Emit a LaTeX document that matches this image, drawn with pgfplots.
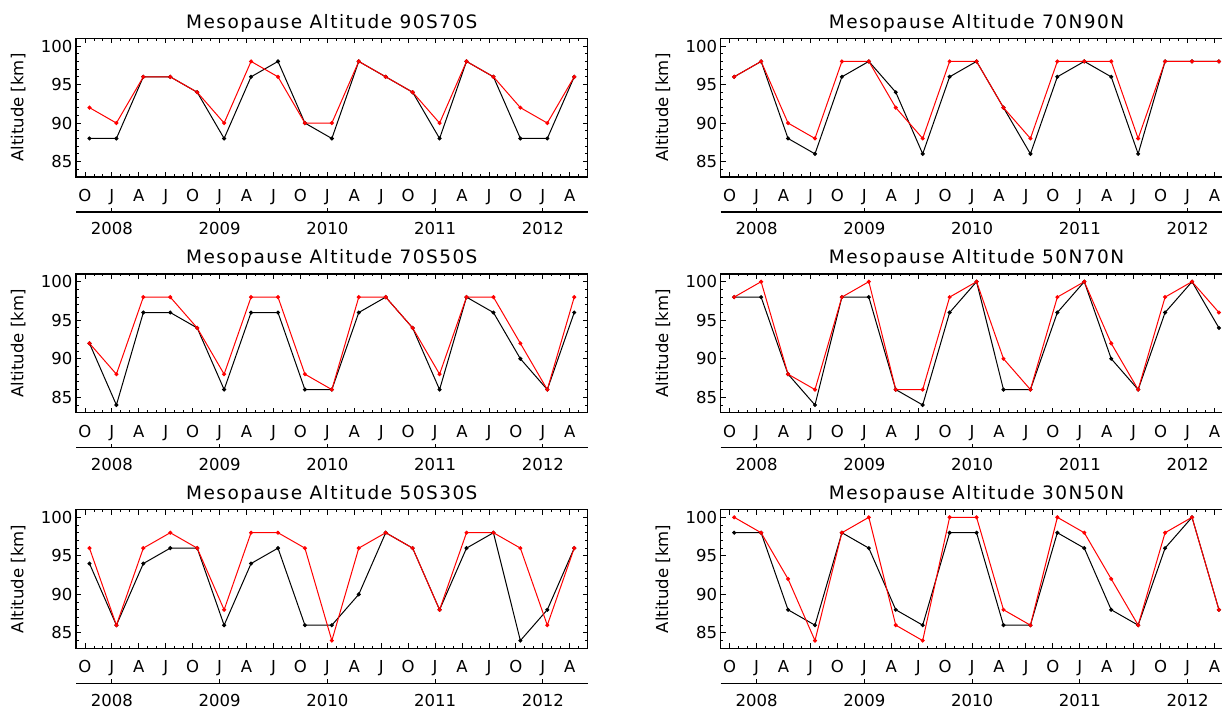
\documentclass[border=0pt]{standalone}
\usepackage{fontspec}
\setmainfont{DejaVu Sans}
\newfontfamily\titlefam[LetterSpace=8]{DejaVu Sans}
\usepackage{pgfplots}
\usepackage{pgfplotstable}
\pgfplotsset{compat=1.18}

% x: months since 1 Oct 2007 (data at mid-month of each quarter); b = black series, r = red series
\pgfplotstableread{
x b r
0.5 88 92
3.5 88 90
6.5 96 96
9.5 96 96
12.5 94 94
15.5 88 90
18.5 96 98
21.5 98 96
24.5 90 90
27.5 88 90
30.5 98 98
33.5 96 96
36.5 94 94
39.5 88 90
42.5 98 98
45.5 96 96
48.5 88 92
51.5 88 90
54.5 96 96
}\tabA
\pgfplotstableread{
x b r
0.5 96 96
3.5 98 98
6.5 88 90
9.5 86 88
12.5 96 98
15.5 98 98
18.5 94 92
21.5 86 88
24.5 96 98
27.5 98 98
30.5 92 92
33.5 86 88
36.5 96 98
39.5 98 98
42.5 96 98
45.5 86 88
48.5 98 98
51.5 98 98
54.5 98 98
}\tabB
\pgfplotstableread{
x b r
0.5 92 92
3.5 84 88
6.5 96 98
9.5 96 98
12.5 94 94
15.5 86 88
18.5 96 98
21.5 96 98
24.5 86 88
27.5 86 86
30.5 96 98
33.5 98 98
36.5 94 94
39.5 86 88
42.5 98 98
45.5 96 98
48.5 90 92
51.5 86 86
54.5 96 98
}\tabC
\pgfplotstableread{
x b r
0.5 98 98
3.5 98 100
6.5 88 88
9.5 84 86
12.5 98 98
15.5 98 100
18.5 86 86
21.5 84 86
24.5 96 98
27.5 100 100
30.5 86 90
33.5 86 86
36.5 96 98
39.5 100 100
42.5 90 92
45.5 86 86
48.5 96 98
51.5 100 100
54.5 94 96
}\tabD
\pgfplotstableread{
x b r
0.5 94 96
3.5 86 86
6.5 94 96
9.5 96 98
12.5 96 96
15.5 86 88
18.5 94 98
21.5 96 98
24.5 86 96
27.5 86 84
30.5 90 96
33.5 98 98
36.5 96 96
39.5 88 88
42.5 96 98
45.5 98 98
48.5 84 96
51.5 88 86
54.5 96 96
}\tabE
\pgfplotstableread{
x b r
0.5 98 100
3.5 98 98
6.5 88 92
9.5 86 84
12.5 98 98
15.5 96 100
18.5 88 86
21.5 86 84
24.5 98 100
27.5 98 100
30.5 86 88
33.5 86 86
36.5 98 100
39.5 96 98
42.5 88 92
45.5 86 86
48.5 96 98
51.5 100 100
54.5 88 88
}\tabF

\newcommand{\tickfont}{\fontsize{16.5}{18}\selectfont}
\newcommand{\titlefont}{\titlefam\fontsize{18.5}{20}\selectfont}

\pgfplotsset{
  every axis title shift=0pt,
  mainax/.style={
    anchor=south west, scale only axis,
    width=511.7pt, height=138.7pt,
    xmin=-1, xmax=56, ymin=83, ymax=101,
    xtick={0,3,...,54},
    xticklabels={O,J,A,J,O,J,A,J,O,J,A,J,O,J,A,J,O,J,A},
    minor xtick={-1,0,...,56},
    ytick={85,90,95,100},
    minor ytick={83,84,...,101},
    tick align=inside,
    major tick length=5pt, minor tick length=2.5pt,
    axis line style={line width=1.2pt},
    every tick/.style={black, line width=0.9pt},
    /pgf/number format/assume math mode=true,
    ticklabel style={font=\tickfont},
    xticklabel style={anchor=base, yshift=-24.5pt},
    ylabel={Altitude [km]},
    every axis y label/.style={at={(axis description cs:-0.1128,0.5)}, rotate=90, anchor=center, font=\tickfont},
    title style={at={(axis description cs:0.5,1)}, anchor=base, yshift=10pt, font=\titlefont},
  },
  yearax/.style={
    anchor=south west, scale only axis,
    width=511.7pt, height=5pt,
    xmin=-1, xmax=56, ymin=0, ymax=1,
    axis x line*=bottom, axis y line=none,
    xtick={3,15,27,39,51},
    xticklabels={2008,2009,2010,2011,2012},
    tick align=inside, major tick length=4pt,
    axis line style={line width=1.2pt},
    every tick/.style={black, line width=0.9pt},
    ticklabel style={font=\tickfont},
    xticklabel style={anchor=base, yshift=-23pt},
  },
  bser/.style={black, line width=1pt, mark=*, mark size=1.5pt, mark options={solid}},
  rser/.style={red, line width=1pt, mark=*, mark size=1.5pt, mark options={solid}},
}

\newcommand{\panel}[4]{%
  \begin{axis}[mainax, at={(#1,#2)}, title={#3}]
    \addplot[bser] table[x=x, y=b]{#4};
    \addplot[rser] table[x=x, y=r]{#4};
  \end{axis}
  \begin{axis}[yearax, at={(#1,#2-35pt)}]
  \end{axis}
}

\begin{document}
\begin{tikzpicture}
\useasboundingbox (0pt,0pt) rectangle (1222pt,709pt);
\clip (0pt,0pt) rectangle (1222pt,709pt);
\panel{76pt}{532pt}{Mesopause Altitude 90S70S}{\tabA}
\panel{720.7pt}{532pt}{Mesopause Altitude 70N90N}{\tabB}
\panel{76pt}{296.3pt}{Mesopause Altitude 70S50S}{\tabC}
\panel{720.7pt}{296.3pt}{Mesopause Altitude 50N70N}{\tabD}
\panel{76pt}{60.7pt}{Mesopause Altitude 50S30S}{\tabE}
\panel{720.7pt}{60.7pt}{Mesopause Altitude 30N50N}{\tabF}
\end{tikzpicture}
\end{document}
